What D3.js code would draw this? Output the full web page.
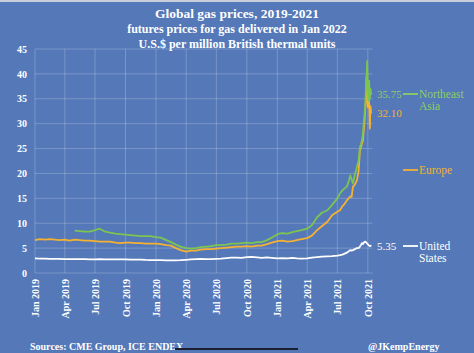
<!DOCTYPE html>
<html>
<head>
<meta charset="utf-8">
<script src="https://cdn.jsdelivr.net/npm/d3@7"></script>
<style>
  body { margin: 0; background: #5478b8; }
  svg { display: block; }
  text { font-family: "Liberation Serif", "DejaVu Serif", serif; fill: #fff; }
</style>
</head>
<body>
<div id="chart-area"></div>
<script>

// Data (futures for Jan 2022 delivery, $/mmBtu)
let dates = [
    "2019-01-01","2019-01-15","2019-02-01","2019-02-15","2019-03-01","2019-03-15",
    "2019-04-01","2019-04-15","2019-05-01","2019-05-15","2019-06-01","2019-06-15",
    "2019-07-01","2019-07-15","2019-08-01","2019-08-15","2019-09-01","2019-09-15",
    "2019-10-01","2019-10-15","2019-11-01","2019-11-15","2019-12-01","2019-12-15",
    "2020-01-01","2020-01-15","2020-02-01","2020-02-15","2020-03-01","2020-03-15",
    "2020-04-01","2020-04-15","2020-05-01","2020-05-15","2020-06-01","2020-06-15",
    "2020-07-01","2020-07-15","2020-08-01","2020-08-15","2020-09-01","2020-09-15",
    "2020-10-01","2020-10-15","2020-11-01","2020-11-15","2020-12-01","2020-12-15",
    "2021-01-01","2021-01-15","2021-02-01","2021-02-15","2021-03-01","2021-03-15",
    "2021-04-01","2021-04-15","2021-05-01","2021-05-15","2021-06-01","2021-06-15",
    "2021-07-01","2021-07-09","2021-07-16","2021-07-23","2021-07-30","2021-08-05",
    "2021-08-09","2021-08-13","2021-08-17","2021-08-23","2021-08-29","2021-09-03",
    "2021-09-07","2021-09-10","2021-09-13","2021-09-16","2021-09-19","2021-09-22",
    "2021-09-25","2021-09-27","2021-09-29","2021-10-01","2021-10-03","2021-10-05",
    "2021-10-07","2021-10-09","2021-10-11"
];

let unitedStates = [
    2.95, 2.9, 2.9, 2.85, 2.85, 2.85, 2.8, 2.8, 2.8, 2.8, 2.78, 2.75,
    2.75, 2.78, 2.72, 2.72, 2.72, 2.75, 2.72, 2.7, 2.7, 2.68, 2.62, 2.6,
    2.6, 2.58, 2.55, 2.55, 2.55, 2.58, 2.65, 2.72, 2.8, 2.85, 2.8, 2.8,
    2.85, 2.9, 3.0, 3.1, 3.1, 3.05, 3.2, 3.25, 3.15, 3.05, 3.15, 3.05,
    2.95, 3.0, 2.95, 3.05, 2.95, 2.9, 2.95, 3.1, 3.2, 3.3, 3.35, 3.4,
    3.5, 3.6, 3.7, 3.9, 4.1, 4.4, 4.6, 4.5, 4.6, 4.8, 5.0, 5.0,
    5.3, 5.6, 6.0, 5.8, 6.1, 6.3, 6.2, 6.1, 5.9, 5.8, 5.6, 5.5,
    5.4, 5.5, 5.35
];

let europe = [
    6.6, 6.8, 6.7, 6.8, 6.7, 6.6, 6.7, 6.5, 6.7, 6.6, 6.5, 6.5,
    6.4, 6.3, 6.3, 6.3, 6.1, 6.0, 6.1, 6.1, 6.0, 6.0, 5.9, 5.9,
    5.9, 5.8, 5.6, 5.5, 5.0, 4.6, 4.3, 4.5, 4.5, 4.7, 4.8, 4.8,
    4.9, 5.0, 5.1, 5.2, 5.3, 5.3, 5.4, 5.3, 5.5, 5.5, 5.8, 6.1,
    6.4, 6.5, 6.3, 6.4, 6.6, 6.8, 7.0, 7.5, 8.6, 9.4, 10.3, 11.6,
    12.3, 12.6, 13.4, 13.9, 14.6, 15.1, 15.4, 15.3, 17.3, 17.8, 18.6, 20.4,
    24.6, 25.2, 26.0, 26.6, 29.0, 31.3, 35.0, 39.3, 35.0, 33.3, 36.0, 34.0,
    29.0, 33.5, 32.1
];

let northeastAsia = [
    null, null, null, null, null, null, null, null, 8.5, 8.4, 8.3, 8.3,
    8.6, 8.9, 8.3, 8.1, 7.9, 7.8, 7.7, 7.6, 7.5, 7.4, 7.4, 7.4,
    7.2, 7.1, 6.6, 6.2, 5.7, 5.3, 5.0, 4.9, 5.0, 5.2, 5.3, 5.4,
    5.6, 5.6, 5.7, 5.9, 5.9, 6.0, 6.1, 6.0, 6.2, 6.2, 6.6, 7.1,
    7.8, 8.0, 7.9, 8.2, 8.4, 8.6, 8.9, 9.6, 11.2, 12.1, 12.6, 13.7,
    15.0, 16.0, 16.6, 17.0, 17.4, 18.6, 19.6, 18.8, 18.0, 19.8, 21.3, 22.6,
    25.3, 25.8, 26.6, 28.0, 30.6, 32.5, 36.6, 39.0, 42.6, 37.5, 34.6, 38.6,
    35.0, 37.0, 35.75
];

let yTicks = [0, 5, 10, 15, 20, 25, 30, 35, 40, 45];
let xTickDates = [
    "2019-01-01","2019-04-01","2019-07-01","2019-10-01",
    "2020-01-01","2020-04-01","2020-07-01","2020-10-01",
    "2021-01-01","2021-04-01","2021-07-01","2021-10-01"
];

let titleLines = [
    "Global gas prices, 2019-2021",
    "futures prices for gas delivered in Jan 2022",
    "U.S.$ per million British thermal units"
];

// Chart area
let width = 474,
    height = 353;

let svg = d3.select("#chart-area").append("svg")
    .attr("width", width)
    .attr("height", height);

svg.append("rect")
    .attr("width", width)
    .attr("height", height)
    .attr("fill", "#5478b8");

svg.append("rect")
    .attr("width", width)
    .attr("height", 2)
    .attr("fill", "#c9cfda");

let parseDate = d3.timeParse("%Y-%m-%d");

let x = d3.scaleTime()
    .domain([parseDate("2019-01-01"), parseDate("2021-10-15")])
    .range([35, 372.5]);

let y = d3.scaleLinear()
    .domain([0, 45])
    .range([273, 49]);

// Gridlines
svg.append("g")
    .selectAll("line")
    .data(yTicks)
    .join("line")
    .attr("x1", x.range()[0])
    .attr("x2", x.range()[1])
    .attr("y1", d => y(d))
    .attr("y2", d => y(d))
    .attr("stroke", "rgba(255,255,255,0.22)")
    .attr("stroke-width", 1);

svg.append("g")
    .selectAll("line")
    .data(xTickDates.map(parseDate))
    .join("line")
    .attr("x1", d => x(d))
    .attr("x2", d => x(d))
    .attr("y1", y(0))
    .attr("y2", y(45))
    .attr("stroke", "rgba(255,255,255,0.22)")
    .attr("stroke-width", 1);

// Axes
let yAxis = d3.axisLeft(y)
    .tickValues(yTicks)
    .tickSize(0)
    .tickPadding(8);

let yAxisGroup = svg.append("g")
    .attr("class", "y-axis axis")
    .attr("transform", "translate(35,0)")
    .call(yAxis);

yAxisGroup.select(".domain").remove();
yAxisGroup.selectAll("text")
    .attr("font-family", "Liberation Serif, serif")
    .attr("font-size", 10)
    .attr("font-weight", "bold")
    .attr("fill", "#fff");

let xAxis = d3.axisBottom(x)
    .tickValues(xTickDates.map(parseDate))
    .tickSize(0)
    .tickFormat(d3.timeFormat("%b %Y"));

let xAxisGroup = svg.append("g")
    .attr("class", "x-axis axis")
    .attr("transform", "translate(0," + y(0) + ")")
    .call(xAxis);

xAxisGroup.select(".domain").remove();
xAxisGroup.selectAll("text")
    .attr("font-family", "Liberation Serif, serif")
    .attr("font-size", 10)
    .attr("font-weight", "bold")
    .attr("fill", "#fff")
    .attr("transform", "rotate(-90)")
    .attr("x", -6)
    .attr("y", 0)
    .attr("dy", "0.35em")
    .style("text-anchor", "end");

// Lines
let series = [
    {name: "unitedStates", values: unitedStates, color: "#ffffff"},
    {name: "europe", values: europe, color: "#f5b232"},
    {name: "northeastAsia", values: northeastAsia, color: "#7cc551"}
];

let line = d3.line()
    .defined(d => d.v != null)
    .x(d => x(d.date))
    .y(d => y(d.v));

svg.append("g")
    .selectAll("path")
    .data(series)
    .join("path")
    .attr("fill", "none")
    .attr("stroke", d => d.color)
    .attr("stroke-width", 1.8)
    .attr("stroke-linejoin", "round")
    .attr("d", d => line(dates.map((s, i) => ({date: parseDate(s), v: d.values[i]}))));

// End labels and legend
let legend = [
    {value: "35.75", lines: ["Northeast", "Asia"], valueY: 98, nameY: 98, color: "#8dcf63"},
    {value: "32.10", lines: ["Europe"], valueY: 117, nameY: 174, color: "#f5b232"},
    {value: "5.35", lines: ["United", "States"], valueY: 250, nameY: 250, color: "#ffffff"}
];

legend.forEach(d => {
    svg.append("text")
        .attr("x", 377)
        .attr("y", d.valueY)
        .attr("font-size", 11)
        .style("fill", d.color)
        .text(d.value);

    svg.append("line")
        .attr("x1", 403)
        .attr("x2", 418)
        .attr("y1", d.nameY - 4)
        .attr("y2", d.nameY - 4)
        .attr("stroke", d.color)
        .attr("stroke-width", 1.8);

    d.lines.forEach((t, i) => {
        svg.append("text")
            .attr("x", 419)
            .attr("y", d.nameY + i * 11.5)
            .attr("font-size", 11.5)
            .style("fill", d.color)
            .text(t);
    });
});

// Title
svg.append("g")
    .selectAll("text")
    .data(titleLines)
    .join("text")
    .attr("x", 237)
    .attr("y", (d, i) => 18 + i * 15)
    .attr("text-anchor", "middle")
    .attr("font-weight", "bold")
    .attr("font-size", (d, i) => i == 0 ? 13.5 : 12)
    .text(d => d);

// Footer
svg.append("text")
    .attr("x", 30)
    .attr("y", 350)
    .attr("font-size", 10)
    .attr("font-weight", "bold")
    .text("Sources: CME Group, ICE ENDEX");

svg.append("line")
    .attr("x1", 175)
    .attr("x2", 298)
    .attr("y1", 349)
    .attr("y2", 349)
    .attr("stroke", "#1a2030")
    .attr("stroke-width", 2);

svg.append("text")
    .attr("x", 368)
    .attr("y", 350)
    .attr("font-size", 10)
    .attr("font-weight", "bold")
    .text("@JKempEnergy");

</script>
</body>
</html>
